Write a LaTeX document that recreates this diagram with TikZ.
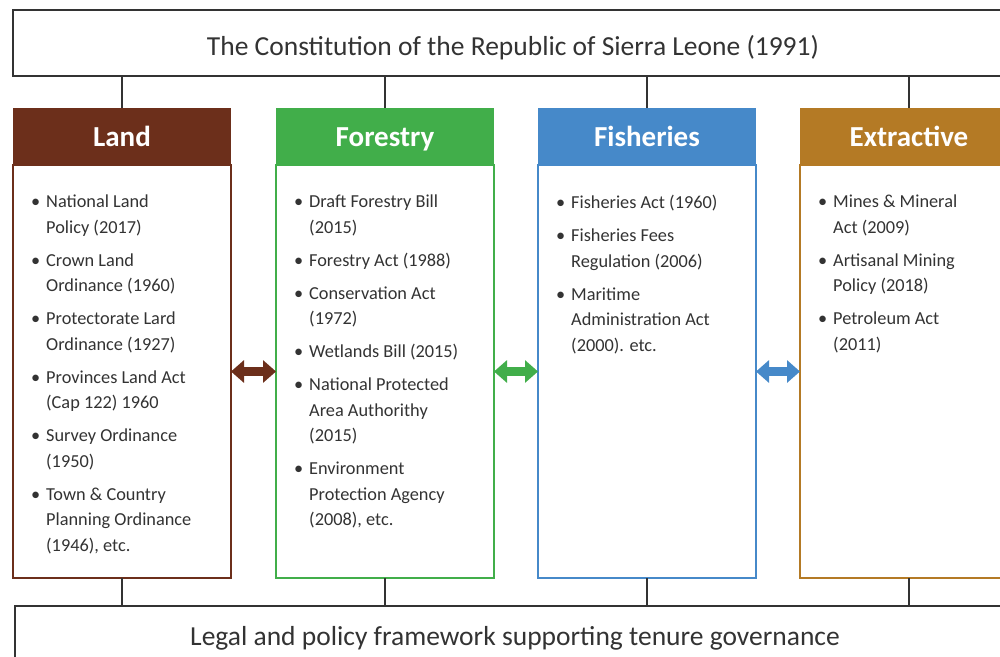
\documentclass[tikz,border=0pt]{standalone}
\usepackage{fontspec}
\setmainfont{Carlito}
\usetikzlibrary{arrows.meta}
\definecolor{cland}{HTML}{6C2F1B}
\definecolor{cfor}{HTML}{41AE4A}
\definecolor{cfish}{HTML}{4689C9}
\definecolor{cext}{HTML}{B47A25}
\definecolor{ink}{HTML}{333333}
\newcommand\bl{\makebox[15pt][l]{\textbullet}}
\newcommand\ind{\hspace*{15pt}}
\tikzset{
  x=1pt, y=-1pt,
  framebox/.style={draw=ink, line width=1.4pt, fill=white},
  bigtext/.style={text=ink, font=\fontsize{27.5}{32}\selectfont, inner sep=0pt, anchor=base},
  headbox/.style={fill=#1, draw=none},
  bodybox/.style={draw=#1, line width=1.4pt, fill=white},
  headtext/.style={text=white, font=\fontsize{29}{34}\selectfont\bfseries, inner sep=0pt, anchor=base},
  bodytext/.style={text=ink, font=\fontsize{18.3}{25.5}\selectfont, align=left, inner sep=0pt, anchor=north west},
  link/.style={draw=ink, line width=1.1pt},
  dblarrow/.style={line width=9pt, draw=#1, {Triangle[length=13pt,width=22pt]}-{Triangle[length=13pt,width=22pt]}}
}
\begin{document}
\begin{tikzpicture}
\useasboundingbox (0,0) rectangle (1000,656);
\clip (0,0) rectangle (1000,656);
% top and bottom frames
\path[framebox] (13,10) rectangle (1013,76);
\node[bigtext] (top) at (513,55) {The Constitution of the Republic of Sierra Leone (1991)};
\coordinate (topS) at (513,76);
\path[framebox] (15,606) rectangle (1015,680);
\node[bigtext] (bottom) at (515,645) {Legal and policy framework supporting tenure governance};
\coordinate (botN) at (515,606);
% columns
\foreach \n/\l/\c in {land/13/cland, for/276/cfor, fish/538/cfish, ext/800/cext}{
  \path[headbox=\c] (\l,108) rectangle ++(218,57);
  \path[bodybox=\c] (\l,165) rectangle ++(218,413);
  \coordinate (\n h) at (\l+109,108);
  \coordinate (\n hc) at (\l+109,146);
  \coordinate (\n bE) at (\l+218,371.5);
  \coordinate (\n bW) at (\l,371.5);
  \coordinate (\n bS) at (\l+109,578);
  \coordinate (\n t) at (\l+18,195);
}
\node[headtext] (landH) at (landhc) {Land};
\node[headtext] (forH) at (forhc) {Forestry};
\node[headtext] (fishH) at (fishhc) {Fisheries};
\node[headtext] (extH) at (exthc) {Extractive};
% connectors
\foreach \n in {land,for,fish,ext}{
  \draw[link] (topS -| \n h) -- (\n h);
  \draw[link] (\n bS) -- (botN -| \n bS);
}
% arrows
\draw[dblarrow=cland] (landbE) -- (forbW);
\draw[dblarrow=cfor] (forbE) -- (fishbW);
\draw[dblarrow=cfish] (fishbE) -- (extbW);
% body texts
\node[bodytext] (landT) at (landt) {\bl National Land\\ \ind Policy (2017)\\[7.5pt]
\bl Crown Land\\ \ind Ordinance (1960)\\[7.5pt]
\bl Protectorate Lard\\ \ind Ordinance (1927)\\[7.5pt]
\bl Provinces Land Act\\ \ind (Cap 122) 1960\\[7.5pt]
\bl Survey Ordinance\\ \ind (1950)\\[7.5pt]
\bl Town \& Country\\ \ind Planning Ordinance\\ \ind (1946), etc.};
\node[bodytext] (forT) at (fort) {\bl Draft Forestry Bill\\ \ind (2015)\\[7.5pt]
\bl Forestry Act (1988)\\[7.5pt]
\bl Conservation Act\\ \ind (1972)\\[7.5pt]
\bl Wetlands Bill (2015)\\[7.5pt]
\bl National Protected\\ \ind Area Authorithy\\ \ind (2015)\\[7.5pt]
\bl Environment\\ \ind Protection Agency\\ \ind (2008), etc.};
\node[bodytext] (fishT) at (fisht) {\bl Fisheries Act (1960)\\[7.5pt]
\bl Fisheries Fees\\ \ind Regulation (2006)\\[7.5pt]
\bl Maritime\\ \ind Administration Act\\ \ind (2000). etc.};
\node[bodytext] (extT) at (extt) {\bl Mines \& Mineral\\ \ind Act (2009)\\[7.5pt]
\bl Artisanal Mining\\ \ind Policy (2018)\\[7.5pt]
\bl Petroleum Act\\ \ind (2011)};
\end{tikzpicture}
\end{document}
